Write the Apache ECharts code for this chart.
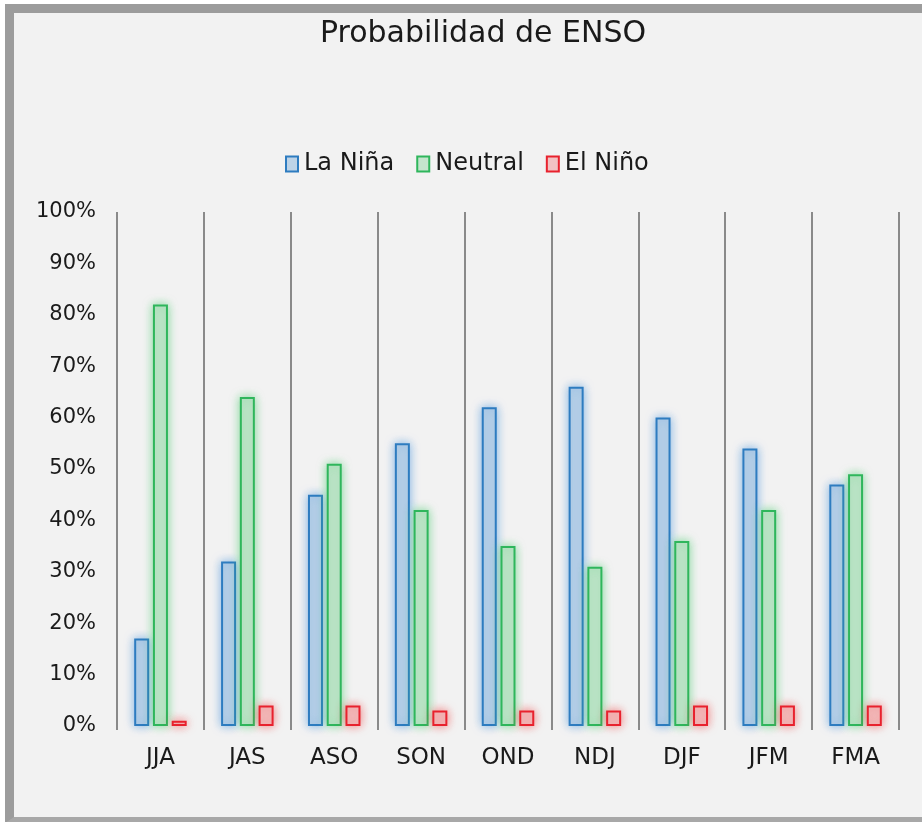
<!DOCTYPE html>
<html>
<head>
<meta charset="utf-8">
<script src="https://cdn.jsdelivr.net/npm/echarts@6/dist/echarts.min.js"></script>
<style>
  body { margin: 0; background: #ffffff; }
  .frame {
    position: absolute; left: 5px; top: 4px; width: 940px; height: 804px;
    border-left: 9px solid #9c9c9c; border-top: 9px solid #9c9c9c; border-bottom: 6px solid #a8a8a8;
    background: #f2f2f2;
  }
  #main { position: absolute; left: 0; top: 0; width: 922px; height: 822px; }
</style>
</head>
<body>
<div class="frame"></div>
<div id="main"></div>
<script>
// temporadas
var categories = ["JJA", "JAS", "ASO", "SON", "OND", "NDJ", "DJF", "JFM", "FMA"];
// probabilidades (%)
var laNina = [17, 32, 45, 55, 62, 66, 60, 54, 47];
var neutral = [82, 64, 51, 42, 35, 31, 36, 42, 49];
var elNino = [1, 4, 4, 3, 3, 3, 4, 4, 4];
var yTicks = [0, 10, 20, 30, 40, 50, 60, 70, 80, 90, 100];

var myChart = echarts.init(document.getElementById("main"));
var font = "'DejaVu Sans', sans-serif";

function barSeries(name, data, border, fill, glow) {
  return {
    name: name,
    type: "bar",
    data: data,
    barWidth: 15,
    barGap: "25%",
    itemStyle: {
      color: fill,
      borderColor: border,
      borderWidth: 2,
      shadowBlur: 10,
      shadowColor: glow
    }
  };
}

var option = {
  animation: false,
  title: {
    text: "Probabilidad de ENSO",
    left: 478,
    textAlign: "center",
    top: 14,
    textStyle: { fontFamily: font, fontSize: 30, fontWeight: "normal", color: "#1a1a1a" }
  },
  legend: {
    top: 147,
    left: 280,
    itemWidth: 12,
    itemHeight: 15,
    itemGap: 22,
    icon: "rect",
    textStyle: { fontFamily: font, fontSize: 24, color: "#1a1a1a", padding: [0, 0, 0, 1] },
    data: ["La Niña", "Neutral", "El Niño"]
  },
  grid: { left: 117, right: 23, top: 212, bottom: 96 },
  xAxis: {
    type: "category",
    data: categories,
    axisLine: { show: false },
    axisTick: { show: true, length: 4, lineStyle: { color: "#8a8a8a", width: 2 } },
    splitLine: { show: true, lineStyle: { color: "#8a8a8a", width: 2 } },
    axisLabel: { fontFamily: font, fontSize: 23, color: "#1a1a1a", margin: 21 }
  },
  yAxis: {
    type: "value",
    min: yTicks[0],
    max: yTicks[yTicks.length - 1],
    interval: 10,
    axisLine: { show: false },
    axisTick: { show: false },
    splitLine: { show: false },
    axisLabel: { fontFamily: font, fontSize: 21, color: "#1a1a1a", margin: 21, formatter: "{value}%" }
  },
  series: [
    barSeries("La Niña", laNina, "#2e7cc0", "#bdd3e7", "rgba(60,140,220,0.6)"),
    barSeries("Neutral", neutral, "#2fb65c", "#c4e5cd", "rgba(60,200,100,0.6)"),
    barSeries("El Niño", elNino, "#e8222e", "#f2c2c3", "rgba(240,60,60,0.6)")
  ]
};

myChart.setOption(option);
</script>
</body>
</html>
